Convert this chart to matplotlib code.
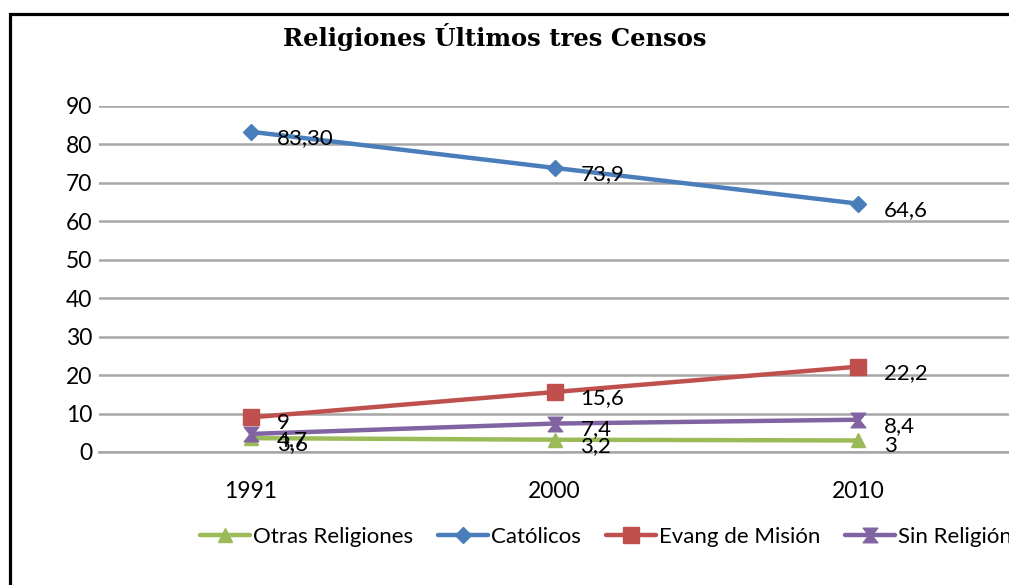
import matplotlib
matplotlib.use("Agg")
import matplotlib.pyplot as plt
from matplotlib.patches import Rectangle
from matplotlib.path import Path

# Census years and series (percent)
years = ["1991", "2000", "2010"]
otras = [3.6, 3.2, 3]
catolicos = [83.30, 73.9, 64.6]
evang = [9, 15.6, 22.2]
sin_religion = [4.7, 7.4, 8.4]

labels_otras = ["3,6", "3,2", "3"]
labels_catolicos = ["83,30", "73,9", "64,6"]
labels_evang = ["9", "15,6", "22,2"]
labels_sin = ["4,7", "7,4", "8,4"]

series_names = ["Otras Religiones", "Católicos", "Evang de Misión", "Sin Religión"]
yticks = [0, 10, 20, 30, 40, 50, 60, 70, 80, 90]

plt.rcParams["font.family"] = ["Lato", "DejaVu Sans"]

W, H = 1009, 585
fig = plt.figure(figsize=(W / 100, H / 100), dpi=100)
fig.patch.set_facecolor("white")

# Outer chart frame (runs past right and bottom edges)
fig.patches.append(Rectangle((10 / W, -0.2), 1.2, 1 - 14 / H + 0.2,
                             transform=fig.transFigure, fill=False,
                             edgecolor="black", linewidth=2.3, zorder=0))

ax = fig.add_axes([99 / W, (H - 452) / H, 911 / W, 346 / H])
ax.set_xlim(-0.5, 2.5)
ax.set_ylim(0, 90)
ax.set_yticks(yticks)
ax.set_yticklabels([str(v) for v in yticks], fontsize=16.5)
ax.set_xticks(range(len(years)))
ax.set_xticklabels(years, fontsize=16.5)
ax.tick_params(axis="both", length=0, colors="black")
ax.tick_params(axis="y", pad=5)
ax.tick_params(axis="x", pad=21)
for s in ["top", "right", "left"]:
    ax.spines[s].set_visible(False)
ax.spines["bottom"].set_color("#a6a6a6")
ax.spines["bottom"].set_linewidth(1.8)
ax.yaxis.grid(True, color="#a6a6a6", linewidth=1.8)
ax.set_axisbelow(True)

hourglass = Path([(-1, 1), (1, 1), (0.2, 0), (1, -1), (-1, -1), (-0.2, 0), (-1, 1)],
                 [Path.MOVETO, Path.LINETO, Path.LINETO, Path.LINETO,
                  Path.LINETO, Path.LINETO, Path.CLOSEPOLY])

x = list(range(len(years)))
specs = [
    (otras, labels_otras, "#9bbb59", "^", 10.5),
    (catolicos, labels_catolicos, "#4a7ebb", "D", 7.8),
    (evang, labels_evang, "#c0504d", "s", 11),
    (sin_religion, labels_sin, "#8064a2", hourglass, 10.5),
]
for (vals, labs, color, marker, ms), name in zip(specs, series_names):
    ax.plot(x, vals, color=color, linewidth=3.2, marker=marker, markersize=ms,
            markerfacecolor=color, markeredgecolor=color, label=name,
            clip_on=False, solid_capstyle="round")
    for xi, v, t in zip(x, vals, labs):
        ax.annotate(t, (xi, v), xytext=(26, -6), textcoords="offset pixels",
                    ha="left", va="center", fontsize=16, color="black")

fig.text(495 / W, 1 - 37 / H, "Religiones Últimos tres Censos",
         ha="center", va="center", fontsize=17.5, fontweight="bold",
         family="DejaVu Serif")

handles, lbls = ax.get_legend_handles_labels()
fig.legend(handles, lbls, loc="center left",
           bbox_to_anchor=(200 / W, 1 - 537 / H), ncol=4, frameon=False,
           fontsize=16, handlelength=2.25, handletextpad=0.15,
           columnspacing=1.1, borderaxespad=0, borderpad=0)

fig.savefig("out.png", dpi=100, facecolor="white")
